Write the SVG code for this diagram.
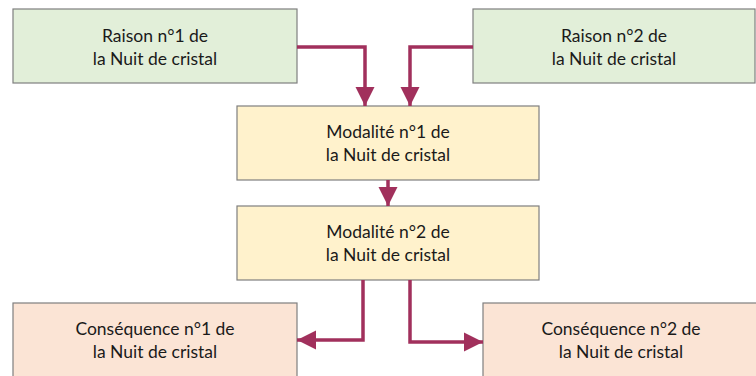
<svg xmlns="http://www.w3.org/2000/svg" width="756" height="376" viewBox="0 0 756 376">
<style>
.box{stroke:#7f7f7f;stroke-width:1.2}
.g{fill:#e2efd9}.y{fill:#fff2cc}.p{fill:#fbe4d5}
text{font-family:Lato,"Liberation Sans",Arial,sans-serif;font-size:17.5px;fill:#1a1a1a;text-anchor:middle}
.c{fill:none;stroke:#a1305c;stroke-width:3.5}
</style>
<defs>
<marker id="ah" viewBox="0 0 10 10" refX="10" refY="5" markerWidth="5.5" markerHeight="5.5" markerUnits="strokeWidth" orient="auto">
<path d="M0,0 L10,5 L0,10 Z" fill="#a1305c"/>
</marker>
</defs>
<rect width="756" height="376" fill="#fff"/>
<g id="raison1"><rect class="box g" x="13" y="9" width="284" height="74"/><text x="155" y="42">Raison n°1 de</text><text x="155" y="65">la Nuit de cristal</text></g>
<g id="raison2"><rect class="box g" x="473" y="9" width="282" height="74"/><text x="614" y="42">Raison n°2 de</text><text x="614" y="65">la Nuit de cristal</text></g>
<g id="modalite1"><rect class="box y" x="237" y="106" width="302" height="74"/><text x="388" y="138">Modalité n°1 de</text><text x="388" y="161">la Nuit de cristal</text></g>
<g id="modalite2"><rect class="box y" x="237" y="206" width="302" height="74"/><text x="388" y="238">Modalité n°2 de</text><text x="388" y="261">la Nuit de cristal</text></g>
<g id="consequence1"><rect class="box p" x="13" y="303" width="284" height="76"/><text x="155" y="335">Conséquence n°1 de</text><text x="155" y="358">la Nuit de cristal</text></g>
<g id="consequence2"><rect class="box p" x="483" y="303" width="276" height="76"/><text x="621" y="335">Conséquence n°2 de</text><text x="621" y="358">la Nuit de cristal</text></g>
<g id="connectors">
<path class="c" d="M297,47 H365 V106" marker-end="url(#ah)"/>
<path class="c" d="M473,47 H410 V106" marker-end="url(#ah)"/>
<path class="c" d="M388,180 V206" marker-end="url(#ah)"/>
<path class="c" d="M363,280 V340 H297" marker-end="url(#ah)"/>
<path class="c" d="M410,280 V342 H483" marker-end="url(#ah)"/>
</g>
</svg>
